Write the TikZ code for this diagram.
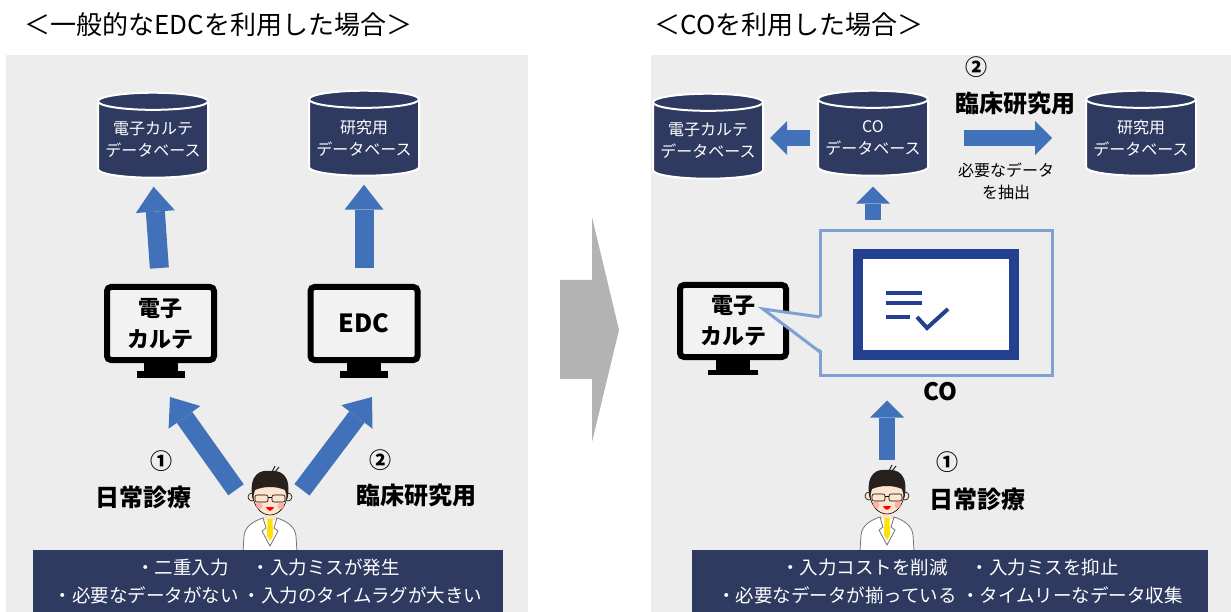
\documentclass[tikz,border=0pt]{standalone}
\usepackage{fontspec}
\setmainfont{Noto Sans CJK JP}
\usepackage{tikz}
\usetikzlibrary{shapes,arrows.meta,positioning,shapes.geometric}
\definecolor{panel}{RGB}{237, 237, 237}
\definecolor{navy}{RGB}{46, 58, 96}
\definecolor{arrowblue}{RGB}{65, 113, 185}
\definecolor{bigarrow}{RGB}{179, 179, 179}
\definecolor{framelight}{RGB}{127, 160, 210}
\definecolor{formblue}{RGB}{36, 65, 145}
\definecolor{screen}{RGB}{242, 242, 242}
\definecolor{skin}{RGB}{253, 228, 206}
\definecolor{hair}{RGB}{40, 32, 28}
\tikzstyle{dbase} = [
    cylinder,
    shape border rotate=90,
    aspect=0.18,
    draw=white,
    line width=2pt,
    fill=navy,
    text=white,
    minimum width=110pt,
    minimum height=85pt,
    inner sep=0pt,
    align=center,
    font=\fontsize{16}{22}\selectfont
]
\tikzstyle{monitor} = [
    rectangle,
    rounded corners=4pt,
    draw=black,
    line width=6pt,
    fill=screen,
    minimum width=107pt,
    minimum height=73pt,
    align=center,
    font=\bfseries\fontsize{22}{31}\selectfont
]
\tikzstyle{blockarrow} = [
    draw=arrowblue,
    line width=19pt,
    -{Triangle[width=39pt,length=25pt,line width=0pt]}
]
\tikzstyle{smallarrow} = [
    draw=arrowblue,
    line width=16pt,
    -{Triangle[width=34pt,length=17pt,line width=0pt]}
]
\tikzstyle{note} = [
    rectangle,
    fill=navy,
    text=white,
    align=center,
    minimum height=62pt,
    font=\fontsize{18.5}{28}\selectfont
]
\tikzstyle{tag} = [font=\bfseries\fontsize{24}{28}\selectfont]
\tikzstyle{num} = [font=\bfseries\fontsize{22}{26}\selectfont]
\tikzstyle{heading} = [anchor=west, font=\fontsize{26}{30}\selectfont]
\tikzstyle{person} = [minimum width=56pt, minimum height=80pt]
% cartoon doctor, head centre at #1
\newcommand{\doctor}[1]{%
    \begin{scope}[shift={(#1)}]
        \filldraw[fill=white, draw=black!55, line width=0.8pt] (-27,58) -- (-26,42) .. controls (-25,32) and (-16,27) .. (-7,24) -- (7,24) .. controls (16,27) and (25,32) .. (26,42) -- (27,58) -- cycle;
        \fill[skin] (-6,16) rectangle (6,26);
        \fill[yellow!85!orange] (-2.5,25) -- (2.5,25) -- (3,42) -- (0,47) -- (-3,42) -- cycle;
        \draw[black!55, line width=0.8pt] (-7,24) -- (-4,34) -- (-8,37) -- (0,52) -- (8,37) -- (4,34) -- (7,24);
        \filldraw[fill=skin, draw=black, line width=0.6pt] (-18,3) circle (4) (18,3) circle (4);
        \filldraw[fill=skin, draw=black, line width=0.6pt] (0,0) ellipse (17 and 21);
        \fill[hair] (-17.5,5) .. controls (-22,-22) and (-8,-24) .. (0,-23) .. controls (10,-24) and (22,-20) .. (17.5,5) -- (15,-4) .. controls (6,-8) and (-6,-8) .. (-15,-4) -- cycle;
        \draw[hair, line width=1pt] (2,-22) -- (5,-28) (5,-22) -- (9,-27);
        \draw[black, line width=0.6pt, rounded corners=2pt] (-15,1) rectangle (-2,8) (2,1) rectangle (15,8);
        \draw[black, line width=0.6pt] (-2,3) -- (2,3);
        \fill[red!40, opacity=0.7] (-11,12) circle (3.5) (11,12) circle (3.5);
        \fill[red] (-4,13) .. controls (-2,18) and (2,18) .. (4,13) -- cycle;
    \end{scope}}
\begin{document}
\begin{tikzpicture}[
        x=1pt, y=-1pt,
        node distance=12pt
    ]
    \useasboundingbox (0,0) rectangle (1231,612);
    \fill[panel] (6,55) rectangle (528,612);
    \fill[panel] (651,55) rectangle (1231,612);

    % --- usual EDC ---
    \node[heading] (titleA) at (21,25) {＜一般的なEDCを利用した場合＞};
    \node[dbase] (emrdb) at (153,140) {電子カルテ\\データベース};
    \node[dbase] (resdb) at (364,138) {研究用\\データベース};
    \node[monitor] (emr) at (160.5,323.5) {電子\\カルテ};
    \node[monitor, font=\bfseries\fontsize{25}{30}\selectfont] (edc) at (364,323.5) {EDC};
    \foreach \m in {emr, edc} {
        \fill (\m.south) ++(-17,0) rectangle ++(34,9);
        \fill ([yshift=-8pt]\m.south) ++(-24,0) rectangle ++(48,7);
    }
    \draw[blockarrow, shorten <=16pt, shorten >=8pt] (emr.north) -- (emrdb.south);
    \draw[blockarrow, shorten <=16pt, shorten >=8pt] (edc.north) -- (resdb.south);

    \node[person] (doc1) at (270,512) {};
    \draw[blockarrow] ([shift={(-34pt,-18pt)}]doc1.north) -- ([shift={(9.5pt,-34pt)}]emr.south);
    \draw[blockarrow] ([shift={(32pt,-18pt)}]doc1.north) -- ([shift={(8pt,-34pt)}]edc.south);
    \doctor{270,494}

    \node[num] (n1) at (161,461) {①};
    \node[tag] (care1) at (143,497) {日常診療};
    \node[num] (n2) at (380,460) {②};
    \node[tag] (study1) at (416,495) {臨床研究用};

    \node[note, minimum width=470pt] (issues) at (268,581) {・二重入力　 ・入力ミスが発生\\・必要なデータがない ・入力のタイムラグが大きい};

    % shift arrow
    \fill[bigarrow] (560,280) -- (592,280) -- (592,217) -- (619,330) -- (592,442) -- (592,379) -- (560,379) -- cycle;

    % --- with CO ---
    \node[heading] (titleB) at (651,25) {＜COを利用した場合＞};
    \node[dbase] (emrdb2) at (708,141) {電子カルテ\\データベース};
    \node[dbase] (codb) at (873,138) {CO\\データベース};
    \node[dbase] (resdb2) at (1141,138) {研究用\\データベース};
    \draw[smallarrow, shorten <=7pt, shorten >=6pt] (codb.west) -- (codb.west -| emrdb2.east);
    \draw[smallarrow, shorten <=35pt, shorten >=33pt] (codb.east) -- (codb.east -| resdb2.west);
    \node[num] (n3) at (976,67) {②};
    \node[tag] (study2) at (1015,103) {臨床研究用};
    \node[align=center, font=\fontsize{16}{22}\selectfont] (extract) at (1006,181) {必要なデータ\\を抽出};

    \node[monitor, minimum width=106pt, minimum height=72pt] (emr2) at (733,321) {電子\\カルテ};
    \fill (emr2.south) ++(-17,0) rectangle ++(34,10);
    \fill ([yshift=-10pt]emr2.south) ++(-25,0) rectangle ++(50,5);

    \node[draw=framelight, line width=3pt, fill=panel, minimum width=232pt, minimum height=144pt] (co) at (936,303) {};
    \fill[panel] (824,317) -- (763,309) -- (824,352) -- cycle;
    \draw[framelight, line width=3pt, line join=miter] (820,317) -- (763,309) -- (820,352);
    \node[draw=formblue, line width=10pt, fill=white, minimum width=156pt, minimum height=101pt] (form) at (936,304.5) {};
    \draw[formblue, line width=4pt] (886,293) -- (922,293) (886,303) -- (922,303) (886,317) -- (910,317);
    \draw[formblue, line width=4pt] (917,317) -- (927,328) -- (948,309);
    \node[tag] (colabel) at (940,392) {CO};
    \draw[smallarrow, shorten <=9pt, shorten >=10pt] (codb.south |- co.north) -- (codb.south);

    \node[person] (doc2) at (887,512) {};
    \draw[smallarrow, shorten <=12pt, shorten >=24pt] (doc2.north) -- (doc2.north |- co.south);
    \doctor{887,493}
    \node[num] (n4) at (947,462) {①};
    \node[tag] (care2) at (977,499) {日常診療};

    \node[note, minimum width=516pt] (gains) at (950,581) {・入力コストを削減　 ・入力ミスを抑止\\・必要なデータが揃っている ・タイムリーなデータ収集};
\end{tikzpicture}
\end{document}
